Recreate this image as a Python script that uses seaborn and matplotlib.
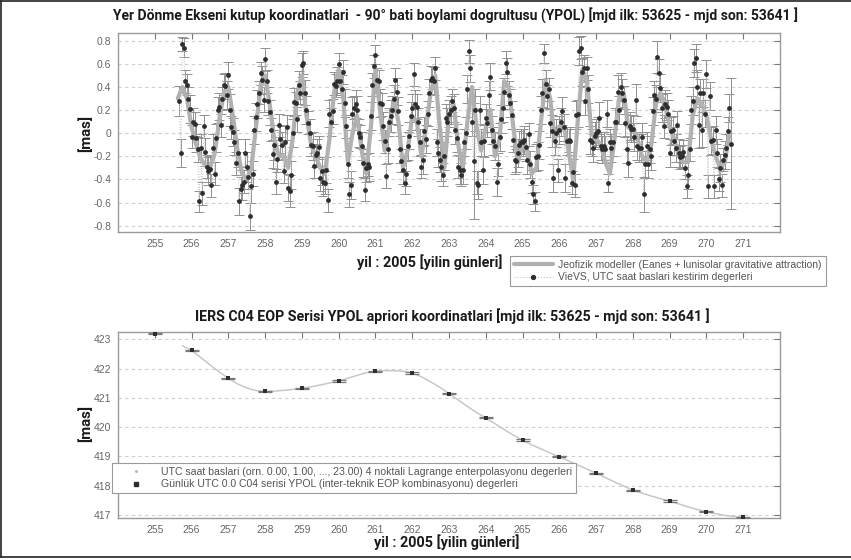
import numpy as np
import pandas as pd
import matplotlib
matplotlib.use("Agg")
import matplotlib.pyplot as plt
import seaborn as sns
from matplotlib.lines import Line2D
from matplotlib.ticker import FuncFormatter, FixedLocator

# ---------------- DATA ----------------
# VieVS hourly YPOL estimates [mas], rows per day of year 2005 (first row starts 16:00 UTC of day 255)
ypol_d255 = [0.28, -0.17, 0.77, 0.74, 0.45, 0.42, 0.30, 0.21]
ypol_d256 = [-0.03, 0.10, 0.08, -0.04, -0.14, -0.59, -0.13, -0.52, 0.06, -0.16, -0.29, -0.33,
             -0.31, -0.45, -0.13, -0.35, -0.04, 0.20, 0.23, 0.07, 0.30, 0.42, 0.41, 0.33]
ypol_d257 = [0.50, 0.20, 0.05, 0.01, -0.08, -0.26, -0.17, -0.59, -0.48, -0.45, -0.42, -0.17,
             -0.29, -0.38, -0.72, -0.46, -0.35, 0.03, 0.14, 0.25, 0.35, 0.52, 0.46, 0.29]
ypol_d258 = [0.64, 0.45, 0.28, 0.18, 0.03, -0.18, -0.10, -0.42, -0.22, 0.07, -0.05, -0.10,
             -0.33, -0.08, 0.05, -0.47, -0.50, -0.36, 0.00, 0.27, 0.26, 0.12, 0.42, 0.35]
ypol_d259 = [0.59, 0.61, 0.35, 0.20, 0.09, 0.00, -0.10, -0.11, -0.28, -0.19, -0.17, -0.12,
             -0.39, -0.33, -0.42, -0.43, -0.32, -0.58, 0.17, 0.10, 0.19, 0.43, 0.41, 0.45]
ypol_d260 = [0.60, 0.45, 0.38, 0.53, 0.26, 0.06, -0.27, -0.53, -0.45, 0.17, 0.22, 0.25,
             0.20, 0.00, -0.03, -0.11, -0.26, -0.49, -0.30, -0.27, -0.29, 0.15, 0.42, 0.58]
ypol_d261 = [0.68, 0.46, 0.45, 0.26, 0.25, 0.06, -0.07, -0.37, -0.14, 0.10, 0.15, 0.20,
             0.30, 0.46, 0.36, 0.19, -0.14, -0.24, -0.32, -0.43, -0.35, -0.11, -0.02, 0.15]
ypol_d262 = [0.22, 0.51, 0.25, 0.23, 0.10, -0.08, -0.29, -0.23, 0.02, -0.05, 0.17, 0.35,
             0.46, 0.48, 0.45, 0.56, -0.08, -0.17, -0.23, -0.29, -0.36, -0.20, 0.13, 0.10]
ypol_d263 = [0.17, 0.20, 0.28, 0.22, 0.03, -0.04, -0.29, -0.32, -0.36, -0.32, -0.08, 0.00,
             0.38, 0.71, 0.56, 0.10, -0.24, 0.20, -0.43, -0.45, 0.20, -0.08, -0.32, -0.07]
ypol_d264 = [0.13, 0.09, 0.33, 0.49, 0.03, -0.07, -0.11, -0.42, -0.27, -0.03, 0.12, 0.22,
             0.36, 0.61, 0.53, 0.33, 0.26, 0.16, -0.06, -0.23, -0.24, -0.17, -0.10, -0.08]
ypol_d265 = [-0.08, -0.06, -0.12, -0.23, -0.01, -0.27, -0.42, -0.53, -0.59, -0.21, -0.20, -0.10,
             0.20, 0.35, 0.69, 0.43, 0.32, 0.38, 0.09, 0.02, -0.39, -0.07, 0.00, -0.32]
ypol_d266 = [0.03, 0.10, 0.19, 0.05, -0.39, -0.07, -0.06, -0.07, -0.43, -0.34, -0.45, 0.16,
             0.17, 0.71, 0.74, 0.53, 0.56, 0.28, 0.56, 0.38, -0.06, -0.08, -0.13, -0.02]
ypol_d267 = [0.00, 0.02, 0.13, -0.11, -0.14, -0.11, -0.14, 0.17, -0.43, -0.08, -0.13, -0.08,
             0.10, 0.10, 0.36, 0.20, 0.40, 0.35, 0.29, 0.09, -0.14, -0.26, 0.06, 0.04]
ypol_d268 = [0.04, -0.03, 0.29, -0.11, -0.13, -0.13, -0.03, -0.53, -0.27, -0.11, -0.27, -0.14,
             -0.20, 0.19, 0.33, 0.30, 0.66, 0.52, 0.39, 0.22, 0.06, 0.25, 0.23, 0.17]
ypol_d269 = [-0.17, 0.02, 0.03, -0.07, -0.13, 0.07, -0.17, -0.21, -0.20, -0.16, -0.30, -0.46,
             -0.36, -0.14, 0.20, 0.28, 0.61, 0.65, 0.40, 0.07, 0.35, 0.03, 0.35, 0.17]
ypol_d270 = [0.51, -0.46, 0.32, -0.07, -0.06, -0.46, 0.03, -0.17, -0.40, -0.30, -0.45, -0.23,
             -0.19, -0.13, 0.02, 0.22, -0.09]

# formal errors [mas] of the hourly estimates, same layout
err_d255 = [0.13, 0.12, 0.06, 0.08, 0.10, 0.09, 0.10, 0.12]
err_d256 = [0.10, 0.12, 0.10, 0.12, 0.11, 0.09, 0.12, 0.10, 0.10, 0.12, 0.10, 0.12,
            0.11, 0.10, 0.12, 0.10, 0.12, 0.11, 0.12, 0.10, 0.10, 0.09, 0.11, 0.12]
err_d257 = [0.12, 0.14, 0.10, 0.12, 0.11, 0.10, 0.12, 0.12, 0.10, 0.13, 0.10, 0.12,
            0.13, 0.10, 0.12, 0.14, 0.11, 0.12, 0.12, 0.12, 0.10, 0.10, 0.12, 0.11]
err_d258 = [0.10, 0.10, 0.12, 0.11, 0.10, 0.12, 0.13, 0.11, 0.12, 0.10, 0.12, 0.11,
            0.10, 0.14, 0.11, 0.12, 0.14, 0.12, 0.12, 0.12, 0.10, 0.11, 0.12, 0.10]
err_d259 = [0.10, 0.10, 0.11, 0.12, 0.10, 0.12, 0.10, 0.12, 0.11, 0.10, 0.12, 0.10,
            0.11, 0.12, 0.12, 0.10, 0.11, 0.10, 0.12, 0.12, 0.11, 0.10, 0.10, 0.12]
err_d260 = [0.09, 0.10, 0.12, 0.10, 0.12, 0.10, 0.12, 0.11, 0.12, 0.14, 0.10, 0.12,
            0.12, 0.12, 0.10, 0.12, 0.12, 0.10, 0.12, 0.10, 0.12, 0.12, 0.10, 0.10]
err_d261 = [0.08, 0.10, 0.10, 0.12, 0.10, 0.12, 0.10, 0.10, 0.12, 0.12, 0.14, 0.12,
            0.12, 0.10, 0.12, 0.12, 0.12, 0.10, 0.12, 0.10, 0.11, 0.12, 0.12, 0.12]
err_d262 = [0.12, 0.10, 0.12, 0.11, 0.12, 0.12, 0.10, 0.12, 0.12, 0.12, 0.11, 0.12,
            0.12, 0.10, 0.12, 0.10, 0.12, 0.12, 0.11, 0.12, 0.10, 0.12, 0.12, 0.12]
err_d263 = [0.12, 0.12, 0.10, 0.12, 0.12, 0.12, 0.10, 0.12, 0.10, 0.12, 0.12, 0.14,
            0.12, 0.10, 0.12, 0.12, 0.50, 0.18, 0.10, 0.12, 0.12, 0.12, 0.12, 0.14]
err_d264 = [0.12, 0.12, 0.12, 0.12, 0.12, 0.12, 0.12, 0.12, 0.10, 0.12, 0.12, 0.12,
            0.12, 0.10, 0.12, 0.12, 0.12, 0.12, 0.10, 0.12, 0.10, 0.12, 0.12, 0.12]
err_d265 = [0.12, 0.12, 0.12, 0.12, 0.10, 0.12, 0.10, 0.08, 0.08, 0.12, 0.12, 0.12,
            0.12, 0.12, 0.08, 0.12, 0.10, 0.10, 0.12, 0.14, 0.12, 0.12, 0.12, 0.10]
err_d266 = [0.12, 0.12, 0.12, 0.12, 0.12, 0.12, 0.10, 0.12, 0.10, 0.12, 0.10, 0.12,
            0.12, 0.12, 0.10, 0.12, 0.12, 0.12, 0.10, 0.12, 0.12, 0.12, 0.12, 0.12]
err_d267 = [0.12, 0.12, 0.14, 0.12, 0.12, 0.12, 0.12, 0.12, 0.08, 0.12, 0.12, 0.12,
            0.12, 0.12, 0.14, 0.12, 0.12, 0.12, 0.12, 0.12, 0.12, 0.12, 0.12, 0.12]
err_d268 = [0.12, 0.12, 0.14, 0.12, 0.12, 0.12, 0.12, 0.15, 0.12, 0.12, 0.12, 0.12,
            0.12, 0.12, 0.12, 0.12, 0.14, 0.12, 0.12, 0.12, 0.10, 0.12, 0.12, 0.12]
err_d269 = [0.12, 0.12, 0.12, 0.12, 0.12, 0.12, 0.12, 0.10, 0.10, 0.10, 0.10, 0.10,
            0.12, 0.10, 0.12, 0.12, 0.12, 0.12, 0.15, 0.20, 0.12, 0.15, 0.12, 0.12]
err_d270 = [0.12, 0.10, 0.12, 0.12, 0.12, 0.10, 0.12, 0.12, 0.10, 0.12, 0.10, 0.10,
            0.12, 0.12, 0.12, 0.12, 0.57]

vievs_start_doy = 255 + 16 / 24     # first hourly estimate
vievs_step_days = 1 / 24

# geophysical model (Eanes + lunisolar) YPOL [mas], 3-hourly from 255.625
model_start_doy = 255.625
model_step_days = 0.125
model_ypol = [0.30, 0.40, 0.30,
              0.05, -0.10, -0.22, -0.28, -0.30, -0.18, 0.10, 0.35,
              0.40, 0.15, -0.15, -0.35, -0.40, -0.30, 0.05, 0.40,
              0.50, 0.25, -0.05, -0.20, -0.20, -0.30, -0.05, 0.35,
              0.50, 0.15, -0.10, -0.20, -0.30, -0.35, -0.05, 0.35,
              0.55, 0.30, -0.25, 0.00, 0.15, -0.15, -0.35, 0.05,
              0.55, 0.20, -0.15, 0.05, 0.30, 0.10, -0.30, -0.15,
              0.15, 0.10, -0.20, 0.05, 0.35, 0.50, 0.05, -0.30,
              0.15, 0.25, -0.10, -0.30, 0.10, 0.40, 0.05, -0.15,
              0.05, 0.20, -0.20, -0.05, 0.45, 0.40, 0.05, -0.25,
              -0.10, -0.15, -0.35, -0.30, 0.10, 0.45, 0.30, -0.05,
              0.05, 0.05, -0.15, -0.40, 0.10, 0.55, 0.45, 0.00,
              -0.05, -0.10, -0.25, -0.35, -0.05, 0.30, 0.35, 0.05,
              0.05, -0.05, -0.20, -0.25, -0.10, 0.25, 0.35, 0.25,
              0.05, -0.05, -0.20, -0.25, -0.25, 0.15, 0.30, 0.25,
              0.15, -0.05, -0.20, -0.30, -0.25, 0.00]

# IERS C04 daily YPOL [mas]
c04_doy = [255, 256, 257, 258, 259, 260, 261, 262, 263, 264, 265, 266, 267, 268, 269, 270, 271]
c04_ypol = [423.19, 422.62, 421.67, 421.22, 421.33, 421.58, 421.91, 421.85, 421.15,
            420.33, 419.56, 418.99, 418.43, 417.85, 417.48, 417.11, 416.92]
c04_err = [0.02] * len(c04_doy)

# Lagrange-interpolated apriori curve [mas], every 6 h from 255.75
lagr_start_doy = 255.75
lagr_step_days = 0.25
lagr_ypol = [422.78, 422.62, 422.38, 422.13, 421.89, 421.67, 421.48, 421.34, 421.25,
             421.22, 421.23, 421.26, 421.29, 421.33, 421.38, 421.44, 421.51,
             421.58, 421.67, 421.77, 421.86, 421.91, 421.93, 421.93, 421.91,
             421.85, 421.72, 421.55, 421.36, 421.15, 420.93, 420.71, 420.50,
             420.32, 420.12, 419.92, 419.73, 419.55, 419.40, 419.26, 419.12,
             418.99, 418.85, 418.71, 418.57, 418.43, 418.28, 418.13, 417.99,
             417.85, 417.75, 417.65, 417.56, 417.48, 417.38, 417.28, 417.19,
             417.11, 417.05, 416.99, 416.95, 416.92]

x_ticks = list(range(255, 272))
top_y_ticks = [-0.8, -0.6, -0.4, -0.2, 0, 0.2, 0.4, 0.6, 0.8]
bot_y_ticks = [417, 418, 419, 420, 421, 422, 423]

title_top = "Yer Dönme Ekseni kutup koordinatlari  - 90° bati boylami dogrultusu (YPOL) [mjd ilk: 53625 - mjd son: 53641 ]"
title_bot = "IERS C04 EOP Serisi YPOL apriori koordinatlari [mjd ilk: 53625 - mjd son: 53641 ]"
xlabel_txt = "yil : 2005 [yilin günleri]"
ylabel_txt = "[mas]"
leg_top = ["Jeofizik modeller (Eanes + lunisolar gravitative attraction)",
           "VieVS, UTC saat baslari kestirim degerleri"]
leg_bot = ["UTC saat baslari (orn. 0.00, 1.00, ..., 23.00) 4 noktali Lagrange enterpolasyonu degerleri",
           "Günlük UTC 0.0 C04 serisi YPOL (inter-teknik EOP kombinasyonu) degerleri"]

# ---------------- assemble ----------------
vievs_vals = np.array(ypol_d255 + ypol_d256 + ypol_d257 + ypol_d258 + ypol_d259 + ypol_d260 +
                      ypol_d261 + ypol_d262 + ypol_d263 + ypol_d264 + ypol_d265 + ypol_d266 +
                      ypol_d267 + ypol_d268 + ypol_d269 + ypol_d270)
vievs_err = np.array(err_d255 + err_d256 + err_d257 + err_d258 + err_d259 + err_d260 +
                     err_d261 + err_d262 + err_d263 + err_d264 + err_d265 + err_d266 +
                     err_d267 + err_d268 + err_d269 + err_d270)
vievs_t = vievs_start_doy + vievs_step_days * np.arange(len(vievs_vals))
model_t = model_start_doy + model_step_days * np.arange(len(model_ypol))
lagr_t = lagr_start_doy + lagr_step_days * np.arange(len(lagr_ypol))

df_v = pd.DataFrame({"t": vievs_t, "y": vievs_vals, "e": vievs_err})
df_m = pd.DataFrame({"t": model_t, "y": model_ypol})
df_l = pd.DataFrame({"t": lagr_t, "y": lagr_ypol})
df_c = pd.DataFrame({"t": c04_doy, "y": c04_ypol, "e": c04_err})

# ---------------- style ----------------
sns.set_theme(style="white")
plt.rcParams['font.family'] = ['Liberation Sans', 'DejaVu Sans']
HEAD = ['Roboto', 'DejaVu Sans']

W, H = 851, 560
fig = plt.figure(figsize=(W / 100, H / 100), dpi=100)
fig.patch.set_facecolor("white")
renderer = fig.canvas.get_renderer()

def fx(px):
    return px / W

def fy(py):
    return 1 - py / H

def fit_text(cx, cy, s, target_px, rotation=0):
    t = fig.text(fx(cx), fy(cy), s, ha='center', va='center', fontsize=10,
                 fontweight='bold', family=HEAD, color='#1a1a1a', rotation=rotation)
    bb = t.get_window_extent(renderer)
    size = bb.height if rotation else bb.width
    t.set_fontsize(10 * target_px / size)
    return t

def style_axes(ax, yticks, ylim, fmt):
    ax.set_xlim(254, 272)
    ax.set_ylim(*ylim)
    ax.xaxis.set_major_locator(FixedLocator(x_ticks))
    ax.yaxis.set_major_locator(FixedLocator(yticks))
    ax.yaxis.set_major_formatter(FuncFormatter(fmt))
    ax.tick_params(direction='in', length=4, width=0.8, top=True, right=True,
                   color='#777777', labelcolor='#666666', labelsize=7.5, pad=5)
    for s in ax.spines.values():
        s.set_color('#9a9a9a')
        s.set_linewidth(1.0)
    ax.yaxis.grid(True, linestyle=(0, (3, 3)), color='#cfcfcf', linewidth=0.8)
    ax.xaxis.grid(False)
    ax.set_xlabel("")
    ax.set_ylabel("")

def fmt_top(v, pos):
    v = round(v, 2)
    if abs(v) < 1e-9:
        return "0"
    return f"{v:g}"

def fmt_bot(v, pos):
    return f"{int(round(v))}"

# ---------------- top panel ----------------
ax1 = fig.add_axes([fx(118), fy(232), fx(780) - fx(118), fy(33) - fy(232)])
ax1.errorbar(df_v.t, df_v.y, yerr=df_v.e, fmt='none', ecolor='#909090',
             elinewidth=0.7, capsize=3.5, capthick=0.7, zorder=2)
sns.lineplot(data=df_m, x="t", y="y", ax=ax1, color='#b0b0b0', lw=3.0,
             estimator=None, sort=False, zorder=3)
sns.lineplot(data=df_v, x="t", y="y", ax=ax1, color='#c4c4c4', lw=0.7,
             linestyle=':', estimator=None, sort=False, zorder=4)
sns.scatterplot(data=df_v, x="t", y="y", ax=ax1, color='#2e2e2e', s=12,
                marker='o', linewidth=0, zorder=5)
style_axes(ax1, top_y_ticks, (-0.855, 0.867), fmt_top)

# ---------------- bottom panel ----------------
ax2 = fig.add_axes([fx(118), fy(518), fx(780) - fx(118), fy(332) - fy(518)])
sns.lineplot(data=df_l, x="t", y="y", ax=ax2, color='#c8c8c8', lw=1.1,
             estimator=None, sort=False, zorder=3)
ax2.errorbar(df_c.t, df_c.y, yerr=df_c.e, fmt='none', ecolor='#7a7a7a',
             elinewidth=0.8, capsize=5, capthick=0.9, zorder=4)
sns.scatterplot(data=df_c, x="t", y="y", ax=ax2, color='#2e2e2e', s=10,
                marker='s', linewidth=0, zorder=5)
style_axes(ax2, bot_y_ticks, (416.9, 423.25), fmt_bot)

# ---------------- texts ----------------
fit_text(455, 15, title_top, 686)
fit_text(452, 316, title_bot, 512)
fit_text(430, 262, xlabel_txt, 146)
fit_text(447, 542, xlabel_txt, 146)
fit_text(86, 133, ylabel_txt, 37, rotation=90)
fit_text(86, 423, ylabel_txt, 37, rotation=90)

# ---------------- legends ----------------
h_top = [Line2D([], [], color='#b0b0b0', lw=3),
         Line2D([], [], color='#c4c4c4', lw=0.8, ls=':', marker='o', markersize=2.8,
                markerfacecolor='#2e2e2e', markeredgecolor='#2e2e2e')]
lg1 = fig.legend(h_top, leg_top, loc='upper left', bbox_to_anchor=(fx(510), fy(256)),
                 fontsize=7.5, frameon=True, fancybox=False, edgecolor='#9a9a9a',
                 framealpha=1, handlelength=3.8, borderpad=0.35, labelspacing=0.25,
                 handletextpad=0.5, borderaxespad=0)
for t in lg1.get_texts():
    t.set_color('#555555')
lg1.get_frame().set_linewidth(0.8)

h_bot = [Line2D([], [], color='none', marker='o', markersize=1.2,
                markerfacecolor='#bbbbbb', markeredgecolor='#bbbbbb'),
         Line2D([], [], color='none', marker='s', markersize=2.6,
                markerfacecolor='#2e2e2e', markeredgecolor='#2e2e2e')]
lg2 = fig.legend(h_bot, leg_bot, loc='upper left', bbox_to_anchor=(fx(112), fy(463)),
                 fontsize=7.6, frameon=True, fancybox=False, edgecolor='#9a9a9a',
                 framealpha=1, handlelength=3.8, borderpad=0.35, labelspacing=0.25,
                 handletextpad=0.5, borderaxespad=0)
for t in lg2.get_texts():
    t.set_color('#555555')
lg2.get_frame().set_linewidth(0.8)

# ---------------- figure frame ----------------
for xs, ys in [([0, 1], [fy(1), fy(1)]), ([0, 1], [fy(557), fy(557)]),
               ([fx(1), fx(1)], [fy(1), fy(557)])]:
    fig.add_artist(Line2D(xs, ys, transform=fig.transFigure, color='#222222', lw=1.2))

fig.savefig("out.png", dpi=100, facecolor="white")
